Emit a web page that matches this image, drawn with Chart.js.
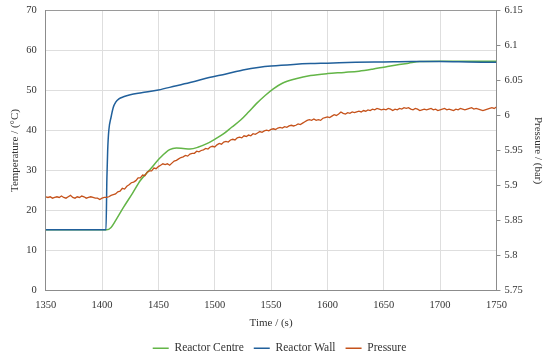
<!DOCTYPE html>
<html>
<head>
<meta charset="utf-8">
<script src="https://cdn.jsdelivr.net/npm/chart.js@4.4.1/dist/chart.umd.min.js"></script>
<style>
  html, body { margin: 0; padding: 0; background: #fff; }
  #wrap { width: 550px; height: 362px; }
</style>
</head>
<body>
<div id="wrap"><canvas id="reactorChart" width="550" height="362"></canvas></div>
<script>
// Data.
const X_TICKS = [1350, 1400, 1450, 1500, 1550, 1600, 1650, 1700, 1750];

const wallTimes  = [1350, 1403.5, 1404.3, 1405, 1406, 1408, 1410, 1412, 1415, 1419, 1425, 1435, 1450, 1465, 1480, 1495, 1510, 1525, 1540, 1550, 1570, 1585, 1600, 1625, 1650, 1675, 1700, 1725, 1750];
const wallTemps  = [15.2, 15.2, 28, 35, 40, 43.3, 45.8, 47, 47.9, 48.4, 48.9, 49.4, 50.1, 51.1, 52.1, 53.2, 54.1, 55.1, 55.8, 56.1, 56.5, 56.7, 56.8, 57.0, 57.1, 57.2, 57.2, 57.1, 57.0];

const centreTimes = [1350, 1404, 1408, 1412, 1419, 1427, 1434, 1443, 1452, 1460, 1466, 1472, 1478, 1485, 1493, 1500, 1508, 1515, 1523, 1530, 1537, 1545, 1552, 1560, 1572, 1585, 1600, 1615, 1628, 1640, 1650, 1660, 1672, 1682, 1700, 1725, 1750];
const centreTemps = [15.2, 15.2, 15.8, 17.5, 20.8, 24.3, 27.5, 30.4, 33.3, 35.2, 35.6, 35.5, 35.4, 35.8, 36.7, 37.8, 39.2, 40.8, 42.6, 44.6, 46.7, 48.8, 50.4, 51.8, 52.9, 53.7, 54.2, 54.5, 54.8, 55.3, 55.8, 56.3, 56.8, 57.2, 57.3, 57.3, 57.25];

// pressure logged every 2 s from 1350 s
const pressureStart = 1350;
const pressureStep  = 2;
const pressureBar = [
  5.884, 5.883, 5.884, 5.882, 5.883, 5.884, 5.883, 5.885, 5.883, 5.882,
  5.884, 5.886, 5.883, 5.882, 5.884, 5.883, 5.885, 5.884, 5.882, 5.883,
  5.884, 5.883, 5.882, 5.882, 5.880, 5.882, 5.883, 5.883, 5.884, 5.886,
  5.887, 5.888, 5.891, 5.892, 5.896, 5.895, 5.899, 5.901, 5.904, 5.905,
  5.907, 5.911, 5.911, 5.915, 5.914, 5.919, 5.921, 5.921, 5.925, 5.924,
  5.927, 5.929, 5.931, 5.930, 5.931, 5.929, 5.932, 5.935, 5.936, 5.938,
  5.940, 5.941, 5.943, 5.942, 5.945, 5.946, 5.946, 5.949, 5.948, 5.950,
  5.951, 5.953, 5.952, 5.955, 5.956, 5.955, 5.958, 5.960, 5.959, 5.962,
  5.963, 5.962, 5.965, 5.966, 5.965, 5.968, 5.969, 5.968, 5.971, 5.970,
  5.972, 5.971, 5.974, 5.973, 5.975, 5.977, 5.976, 5.978, 5.979, 5.978,
  5.980, 5.981, 5.980, 5.982, 5.983, 5.982, 5.984, 5.983, 5.985, 5.986,
  5.985, 5.986, 5.988, 5.987, 5.989, 5.991, 5.993, 5.994, 5.993, 5.995,
  5.993, 5.994, 5.993, 5.996, 5.997, 5.998, 5.997, 5.999, 6.001, 6.000,
  6.002, 6.005, 6.003, 6.002, 6.004, 6.003, 6.005, 6.004, 6.005, 6.006,
  6.005, 6.007, 6.006, 6.008, 6.007, 6.009, 6.008, 6.010, 6.009, 6.008,
  6.009, 6.008, 6.010, 6.009, 6.007, 6.009, 6.008, 6.010, 6.009, 6.011,
  6.010, 6.011, 6.009, 6.008, 6.010, 6.009, 6.007, 6.008, 6.009, 6.008,
  6.009, 6.010, 6.008, 6.009, 6.007, 6.008, 6.009, 6.010, 6.008, 6.009,
  6.008, 6.007, 6.009, 6.008, 6.010, 6.009, 6.008, 6.009, 6.010, 6.011,
  6.009, 6.010, 6.009, 6.008, 6.007, 6.008, 6.009, 6.010, 6.011, 6.010,
  6.012
];

const COLORS = {
  centre:   "#63b547",
  wall:     "#21609b",
  pressure: "#c5521b",
  grid:     "#dedede",
  axis:     "#8c8c8c",
  text:     "#333333",
};
const FONT = "'Liberation Serif', 'DejaVu Serif', serif";


// Helpers
function toPoints(xs, ys) {
  return xs.map(function (x, i) { return { x: x, y: ys[i] }; });
}

function pressurePoints() {
  return pressureBar.map(function (p, i) { return { x: pressureStart + i * pressureStep, y: p }; });
}


// Chart
new Chart(document.getElementById("reactorChart"), {
  type: "line",
  data: {
    datasets: [
      {
        label: "Reactor Centre",
        data: toPoints(centreTimes, centreTemps),
        borderColor: COLORS.centre,
        backgroundColor: COLORS.centre,
        borderWidth: 1.5,
        cubicInterpolationMode: "monotone",
        yAxisID: "y",
        order: 3,
      },
      {
        label: "Reactor Wall",
        data: toPoints(wallTimes, wallTemps),
        borderColor: COLORS.wall,
        backgroundColor: COLORS.wall,
        borderWidth: 1.5,
        cubicInterpolationMode: "monotone",
        yAxisID: "y",
        order: 2,
      },
      {
        label: "Pressure",
        data: pressurePoints(),
        borderColor: COLORS.pressure,
        backgroundColor: COLORS.pressure,
        borderWidth: 1.3,
        tension: 0,
        yAxisID: "y2",
        order: 1,
      },
    ],
  },
  options: {
    responsive: false,
    animation: false,
    layout: { padding: { top: 0, left: 9, right: 0, bottom: -2 } },
    elements: { point: { radius: 0 } },
    plugins: {
      legend: {
        position: "bottom",
        labels: {
          usePointStyle: true,
          pointStyle: "line",
          pointStyleWidth: 16,
          color: COLORS.text,
          font: { family: FONT, size: 11.5 },
          padding: 10,
          sort: function (a, b) { return a.datasetIndex - b.datasetIndex; },
        },
      },
      tooltip: { enabled: false },
    },
    scales: {
      x: {
        type: "linear",
        min: 1350,
        max: 1750,
        afterBuildTicks: function (axis) { axis.ticks = X_TICKS.map(function (v) { return { value: v }; }); },
        grid: { color: COLORS.grid, drawTicks: false },
        border: { color: COLORS.axis },
        ticks: {
          color: COLORS.text,
          font: { family: FONT, size: 10.5 },
          padding: 8,
          maxRotation: 0,
          callback: function (v) { return String(v); },
        },
        title: { display: true, text: "Time / (s)", color: COLORS.text, font: { family: FONT, size: 11 }, padding: { top: -3, bottom: 3 } },
      },
      y: {
        position: "left",
        min: 0,
        max: 70,
        ticks: { stepSize: 10, color: COLORS.text, font: { family: FONT, size: 10.5 }, padding: 3 },
        grid: {
          color: function (ctx) { return ctx.tick && ctx.tick.value === 70 ? "#9a9a9a" : COLORS.grid; },
          drawTicks: true,
          tickLength: 6,
          tickColor: "rgba(0,0,0,0)",
        },
        border: { color: COLORS.axis },
        title: { display: true, text: "Temperature / (°C)", color: COLORS.text, font: { family: FONT, size: 11 }, padding: { top: 0, bottom: 1 } },
      },
      y2: {
        position: "right",
        min: 5.75,
        max: 6.15,
        ticks: {
          stepSize: 0.05,
          color: COLORS.text,
          font: { family: FONT, size: 10.5 },
          padding: 4,
          callback: function (v) { return String(Number(v.toFixed(2))); },
        },
        grid: { drawOnChartArea: false, drawTicks: true, tickLength: 4, tickColor: COLORS.axis },
        border: { color: COLORS.axis },
        title: { display: true, text: "Pressure / (bar)", color: COLORS.text, font: { family: FONT, size: 11 }, padding: { top: 5.4, bottom: 4.6 } },
      },
    },
  },
});
</script>
</body>
</html>
